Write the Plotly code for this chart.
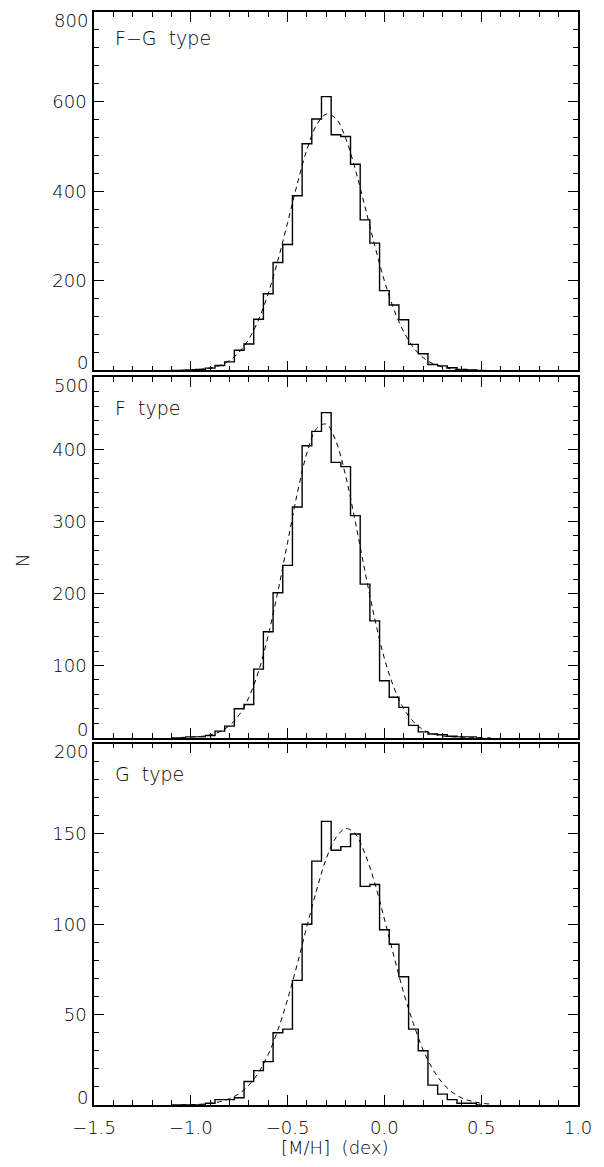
import plotly.graph_objects as go

# ---- data ----
bin_centers = [-1.10, -1.05, -1.00, -0.95, -0.90, -0.85, -0.80, -0.75, -0.70, -0.65,
               -0.60, -0.55, -0.50, -0.45, -0.40, -0.35, -0.30, -0.25, -0.20, -0.15,
               -0.10, -0.05, 0.00, 0.05, 0.10, 0.15, 0.20, 0.25, 0.30, 0.35,
               0.40, 0.45, 0.50]

counts_fg = [0, 0, 1, 2, 5, 11, 19, 45, 59, 114,
             171, 241, 281, 390, 506, 561, 611, 526, 522, 460,
             336, 284, 178, 146, 113, 58, 37, 13, 10, 6,
             2, 1, 0]

counts_f = [0, 0, 1, 1, 3, 9, 16, 40, 46, 95,
            147, 201, 239, 320, 405, 425, 451, 382, 376, 308,
            213, 162, 79, 56, 42, 17, 8, 5, 4, 2,
            1, 1, 0]

counts_g = [0, 0, 0, 0, 1, 3, 3, 4, 13, 19,
            24, 40, 42, 69, 100, 135, 157, 141, 143, 150,
            121, 122, 97, 89, 71, 42, 30, 11, 6, 3,
            1, 1, 0]

fit_x = [-1.05, -1.00, -0.95, -0.90, -0.85, -0.80, -0.75, -0.70, -0.65, -0.60,
         -0.55, -0.50, -0.45, -0.40, -0.35, -0.30, -0.25, -0.20, -0.15, -0.10,
         -0.05, 0.00, 0.05, 0.10, 0.15, 0.20, 0.25, 0.30, 0.35, 0.40,
         0.45, 0.50, 0.55]

fit_fg = [0.4, 1, 2.5, 5.5, 11, 22, 41, 70, 113, 172,
          246, 330, 416, 493, 548, 572, 562, 518, 448, 365,
          279, 200, 135, 86, 51, 28.5, 15, 7.4, 3.4, 1.5,
          0.6, 0.2, 0.05]

fit_f = [0.3, 0.7, 1.6, 3.8, 8.3, 16.8, 31.7, 56, 92, 142,
         203, 271, 339, 395, 429, 435, 411, 363, 299, 230,
         165, 110, 69, 40, 22, 11, 5.3, 2.3, 0.95, 0.4,
         0.15, 0.05, 0.02]

fit_g = [0.1, 0.2, 0.4, 0.9, 1.8, 3.5, 6.3, 11, 18, 28,
         41.6, 58.5, 78, 99, 119, 136.5, 148, 153, 150, 139,
         123, 103, 82, 62, 45, 30.5, 19.8, 12.2, 7.1, 3.9,
         2.1, 1.0, 0.5]

panel_labels = ["F\u2212G  type", "F  type", "G  type"]
y_ranges = [[0, 800], [0, 500], [0, 200]]
y_tickvals = [[0, 200, 400, 600, 800], [0, 100, 200, 300, 400, 500], [0, 50, 100, 150, 200]]
y_minor = [40, 20, 10]
x_ticks = [-1.5, -1.0, -0.5, 0.0, 0.5, 1.0]
x_ticktext = ["\u22121.5", "\u22121.0", "\u22120.5", "0.0", "0.5", "1.0"]
x_minor = 0.1

FONT = "DejaVu Sans"
FS = 18
counts_all = [counts_fg, counts_f, counts_g]
fits_all = [fit_fg, fit_f, fit_g]

# panel domains (top, middle, bottom)
domains = [[0.6721, 1.0], [0.3361, 0.6658], [0.0, 0.3306]]

fig = go.Figure()
for i in range(3):
    ax = "" if i == 0 else str(i + 1)
    fig.add_trace(go.Scatter(x=bin_centers, y=counts_all[i], mode="lines",
                             line=dict(color="black", width=1.4, shape="hvh"),
                             xaxis="x" + ax, yaxis="y" + ax, showlegend=False,
                             hoverinfo="skip"))
    fig.add_trace(go.Scatter(x=fit_x, y=fits_all[i], mode="lines",
                             line=dict(color="black", width=1, dash="5px,4px",
                                       shape="spline", smoothing=1.0),
                             xaxis="x" + ax, yaxis="y" + ax, showlegend=False,
                             hoverinfo="skip"))

layout = dict(width=604, height=1167, plot_bgcolor="white", paper_bgcolor="white",
              margin=dict(l=94, r=26, t=10, b=62),
              font=dict(family=FONT, size=FS, color="black", weight=200))

tf = dict(family=FONT, size=FS, color="black", weight=200)
annotations = []
for i in range(3):
    ax = "" if i == 0 else str(i + 1)
    mx = str(4 + i)  # overlay axes for minor ticks
    layout["xaxis" + ax] = dict(
        range=[-1.5, 1.0], domain=[0, 1], anchor="y" + ax,
        tickmode="array", tickvals=x_ticks, ticktext=x_ticktext,
        showticklabels=(i == 2), ticklabelstandoff=6,
        ticks="inside", ticklen=10, tickwidth=1, tickcolor="black",
        showline=True, linecolor="black", linewidth=1.5, mirror="allticks",
        showgrid=False, zeroline=False, tickfont=tf)
    # y tick labels: inner ones on the axis, end ones as shifted annotations
    yt = y_tickvals[i]
    ytext = [""] + [str(v) for v in yt[1:-1]] + [""]
    layout["yaxis" + ax] = dict(
        range=y_ranges[i], domain=domains[i], anchor="x" + ax,
        tickmode="array", tickvals=yt, ticktext=ytext,
        ticks="inside", ticklen=10, tickwidth=1, tickcolor="black",
        showline=True, linecolor="black", linewidth=1.5, mirror="allticks",
        showgrid=False, zeroline=False, ticklabelstandoff=2, tickfont=tf)
    # minor tick overlay axes
    layout["xaxis" + mx] = dict(
        range=[-1.5, 1.0], overlaying="x" + ax, anchor="y" + ax,
        dtick=x_minor, tick0=0, showticklabels=False,
        ticks="inside", ticklen=5, tickwidth=1, tickcolor="black",
        showline=True, linecolor="black", linewidth=1.5, mirror="allticks",
        showgrid=False, zeroline=False)
    layout["yaxis" + mx] = dict(
        range=y_ranges[i], overlaying="y" + ax, anchor="x" + ax,
        dtick=y_minor[i], tick0=0, showticklabels=False,
        ticks="inside", ticklen=5, tickwidth=1, tickcolor="black",
        showline=True, linecolor="black", linewidth=1.5, mirror="allticks",
        showgrid=False, zeroline=False)
    # end labels (shifted inward so neighbouring panels' labels don't collide)
    annotations.append(dict(text=str(yt[0]), x=0, y=yt[0], xref="paper", yref="y" + ax,
                            xanchor="right", yanchor="middle", xshift=-5, yshift=8,
                            borderpad=0, showarrow=False, font=tf))
    annotations.append(dict(text=str(yt[-1]), x=0, y=yt[-1], xref="paper", yref="y" + ax,
                            xanchor="right", yanchor="middle", xshift=-5, yshift=-8,
                            borderpad=0, showarrow=False, font=tf))

# invisible traces so overlay axes get drawn
for i in range(3):
    mx = str(4 + i)
    fig.add_trace(go.Scatter(x=[None], y=[None], xaxis="x" + mx, yaxis="y" + mx,
                             showlegend=False, hoverinfo="skip", mode="lines"))

label_y = [0.976, 0.638, 0.303]
for i in range(3):
    annotations.append(dict(text=panel_labels[i], x=0.039, y=label_y[i],
                            xref="paper", yref="paper", xanchor="left", yanchor="middle",
                            showarrow=False, font=dict(family=FONT, size=19, color="black", weight=200)))
annotations.append(dict(text="N", x=-0.149, y=0.4986, xref="paper", yref="paper",
                        textangle=-90, showarrow=False, xanchor="center", yanchor="middle",
                        font=tf))
annotations.append(dict(text="[M/H]  (dex)", x=0.498, y=-0.0393, xref="paper", yref="paper",
                        showarrow=False, xanchor="center", yanchor="middle",
                        font=tf))
layout["annotations"] = annotations

fig.update_layout(**layout)
fig.write_html("out.html")
